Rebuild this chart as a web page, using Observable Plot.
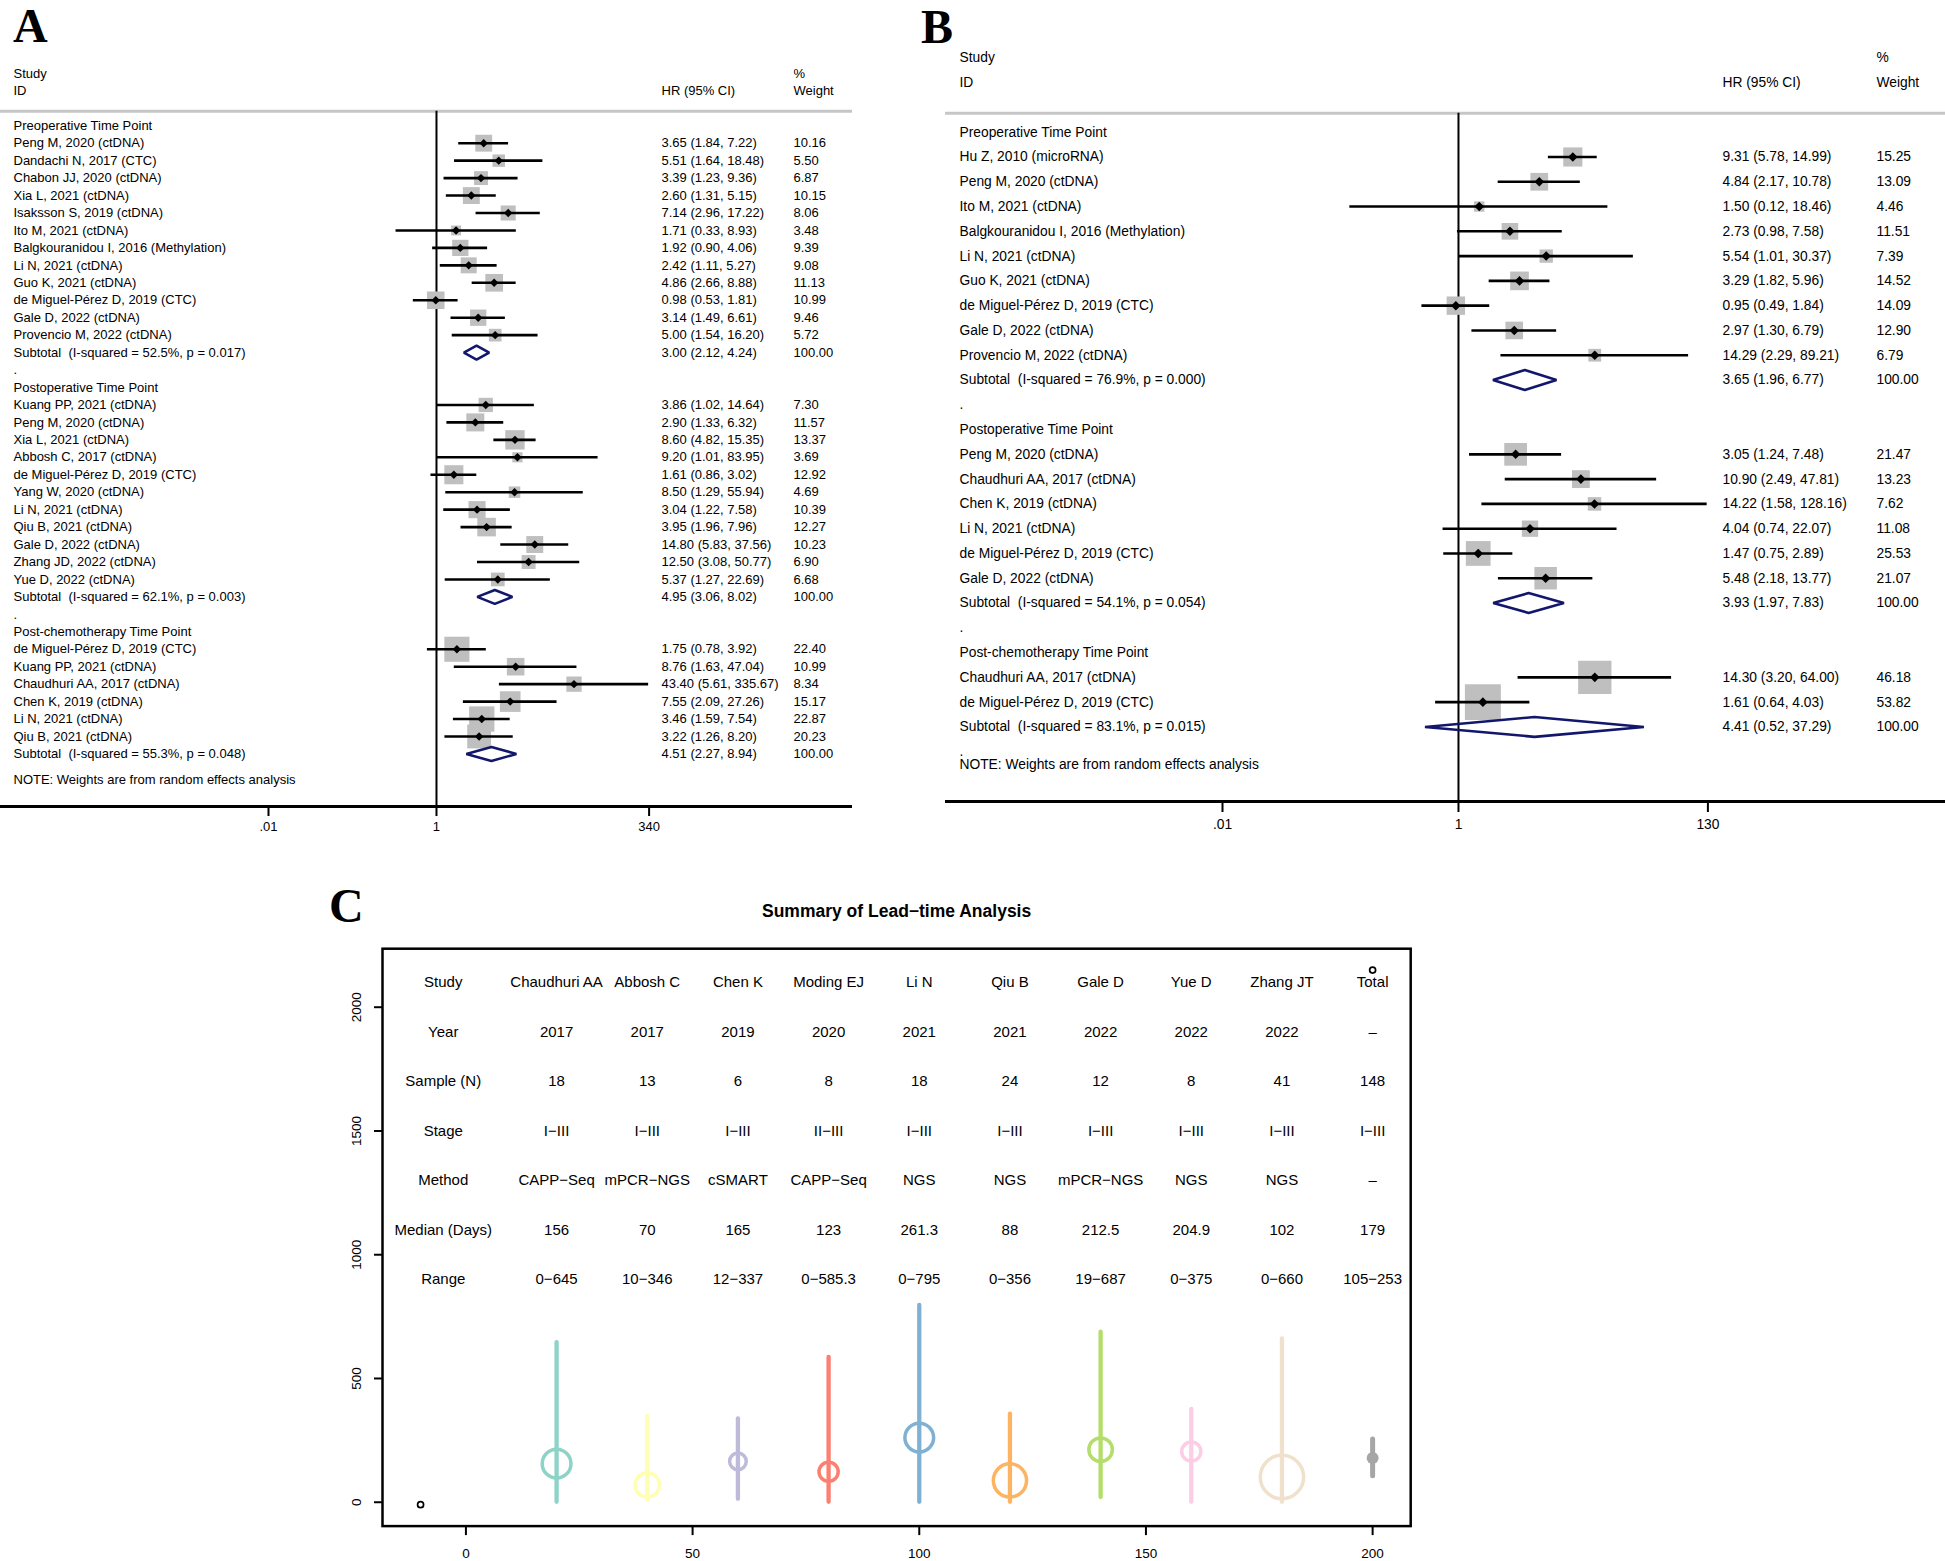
<!DOCTYPE html>
<html>
<head>
<meta charset="utf-8">
<script src="https://cdn.jsdelivr.net/npm/d3@7"></script>
<script src="https://cdn.jsdelivr.net/npm/@observablehq/plot@0.6"></script>
<style>
  body { margin: 0; background: #fff; }
  #page { position: relative; width: 1945px; height: 1561px; overflow: hidden; background: #fff;
          font-family: "Liberation Sans", Arial, Helvetica, sans-serif; }
  .panel { position: absolute; }
  .letter { position: absolute; font-family: "Liberation Serif", "Times New Roman", serif; font-weight: bold;
            font-size: 48px; line-height: 48px; color: #000; }
</style>
</head>
<body>
<div id="page">
  <div class="letter" style="left:13px;top:2px;">A</div>
  <div class="letter" style="left:921px;top:3px;">B</div>
  <div class="letter" style="left:329px;top:882px;">C</div>
  <div id="pA" class="panel" style="left:0px;top:0px;"></div>
  <div id="pB" class="panel" style="left:940px;top:0px;"></div>
  <div id="pC" class="panel" style="left:300px;top:860px;"></div>
</div>
<script>
const FONT = '"Liberation Sans", Arial, Helvetica, sans-serif';
const NAVY = "#13176c";

// ---------------- Panel A data ----------------
const A_groups = ["Preoperative Time Point", "Postoperative Time Point", "Post-chemotherapy Time Point"];
const A_groupSize = [12, 11, 6];
const A_study = [
  "Peng M, 2020 (ctDNA)", "Dandachi N, 2017 (CTC)", "Chabon JJ, 2020 (ctDNA)", "Xia L, 2021 (ctDNA)",
  "Isaksson S, 2019 (ctDNA)", "Ito M, 2021 (ctDNA)", "Balgkouranidou I, 2016 (Methylation)", "Li N, 2021 (ctDNA)",
  "Guo K, 2021 (ctDNA)", "de Miguel-Pérez D, 2019 (CTC)", "Gale D, 2022 (ctDNA)", "Provencio M, 2022 (ctDNA)",
  "Kuang PP, 2021 (ctDNA)", "Peng M, 2020 (ctDNA)", "Xia L, 2021 (ctDNA)", "Abbosh C, 2017 (ctDNA)",
  "de Miguel-Pérez D, 2019 (CTC)", "Yang W, 2020 (ctDNA)", "Li N, 2021 (ctDNA)", "Qiu B, 2021 (ctDNA)",
  "Gale D, 2022 (ctDNA)", "Zhang JD, 2022 (ctDNA)", "Yue D, 2022 (ctDNA)",
  "de Miguel-Pérez D, 2019 (CTC)", "Kuang PP, 2021 (ctDNA)", "Chaudhuri AA, 2017 (ctDNA)", "Chen K, 2019 (ctDNA)",
  "Li N, 2021 (ctDNA)", "Qiu B, 2021 (ctDNA)"
];
const A_hr = [3.65, 5.51, 3.39, 2.60, 7.14, 1.71, 1.92, 2.42, 4.86, 0.98, 3.14, 5.00,
              3.86, 2.90, 8.60, 9.20, 1.61, 8.50, 3.04, 3.95, 14.80, 12.50, 5.37,
              1.75, 8.76, 43.40, 7.55, 3.46, 3.22];
const A_lo = [1.84, 1.64, 1.23, 1.31, 2.96, 0.33, 0.90, 1.11, 2.66, 0.53, 1.49, 1.54,
              1.02, 1.33, 4.82, 1.01, 0.86, 1.29, 1.22, 1.96, 5.83, 3.08, 1.27,
              0.78, 1.63, 5.61, 2.09, 1.59, 1.26];
const A_hi = [7.22, 18.48, 9.36, 5.15, 17.22, 8.93, 4.06, 5.27, 8.88, 1.81, 6.61, 16.20,
              14.64, 6.32, 15.35, 83.95, 3.02, 55.94, 7.58, 7.96, 37.56, 50.77, 22.69,
              3.92, 47.04, 335.67, 27.26, 7.54, 8.20];
const A_weight = [10.16, 5.50, 6.87, 10.15, 8.06, 3.48, 9.39, 9.08, 11.13, 10.99, 9.46, 5.72,
                  7.30, 11.57, 13.37, 3.69, 12.92, 4.69, 10.39, 12.27, 10.23, 6.90, 6.68,
                  22.40, 10.99, 8.34, 15.17, 22.87, 20.23];
const A_subI2 = [52.5, 62.1, 55.3];
const A_subP = ["0.017", "0.003", "0.048"];
const A_subHr = [3.00, 4.95, 4.51];
const A_subLo = [2.12, 3.06, 2.27];
const A_subHi = [4.24, 8.02, 8.94];
const A_ticks = [0.01, 1, 340];
const A_tickLabels = [".01", "1", "340"];

// ---------------- Panel B data ----------------
const B_groups = ["Preoperative Time Point", "Postoperative Time Point", "Post-chemotherapy Time Point"];
const B_groupSize = [9, 6, 2];
const B_study = [
  "Hu Z, 2010 (microRNA)", "Peng M, 2020 (ctDNA)", "Ito M, 2021 (ctDNA)", "Balgkouranidou I, 2016 (Methylation)",
  "Li N, 2021 (ctDNA)", "Guo K, 2021 (ctDNA)", "de Miguel-Pérez D, 2019 (CTC)", "Gale D, 2022 (ctDNA)",
  "Provencio M, 2022 (ctDNA)",
  "Peng M, 2020 (ctDNA)", "Chaudhuri AA, 2017 (ctDNA)", "Chen K, 2019 (ctDNA)", "Li N, 2021 (ctDNA)",
  "de Miguel-Pérez D, 2019 (CTC)", "Gale D, 2022 (ctDNA)",
  "Chaudhuri AA, 2017 (ctDNA)", "de Miguel-Pérez D, 2019 (CTC)"
];
const B_hr = [9.31, 4.84, 1.50, 2.73, 5.54, 3.29, 0.95, 2.97, 14.29,
              3.05, 10.90, 14.22, 4.04, 1.47, 5.48,
              14.30, 1.61];
const B_lo = [5.78, 2.17, 0.12, 0.98, 1.01, 1.82, 0.49, 1.30, 2.29,
              1.24, 2.49, 1.58, 0.74, 0.75, 2.18,
              3.20, 0.64];
const B_hi = [14.99, 10.78, 18.46, 7.58, 30.37, 5.96, 1.84, 6.79, 89.21,
              7.48, 47.81, 128.16, 22.07, 2.89, 13.77,
              64.00, 4.03];
const B_weight = [15.25, 13.09, 4.46, 11.51, 7.39, 14.52, 14.09, 12.90, 6.79,
                  21.47, 13.23, 7.62, 11.08, 25.53, 21.07,
                  46.18, 53.82];
const B_subI2 = [76.9, 54.1, 83.1];
const B_subP = ["0.000", "0.054", "0.015"];
const B_subHr = [3.65, 3.93, 4.41];
const B_subLo = [1.96, 1.97, 0.52];
const B_subHi = [6.77, 7.83, 37.29];
const B_ticks = [0.01, 1, 130];
const B_tickLabels = [".01", "1", "130"];

// ---------------- Panel C data ----------------
const C_rowLabels = ["Study", "Year", "Sample (N)", "Stage", "Method", "Median (Days)", "Range"];
const C_study = ["Chaudhuri AA", "Abbosh C", "Chen K", "Moding EJ", "Li N", "Qiu B", "Gale D", "Yue D", "Zhang JT", "Total"];
const C_year = ["2017", "2017", "2019", "2020", "2021", "2021", "2022", "2022", "2022", "–"];
const C_n = [18, 13, 6, 8, 18, 24, 12, 8, 41, 148];
const C_stage = ["I−III", "I−III", "I−III", "II−III", "I−III", "I−III", "I−III", "I−III", "I−III", "I−III"];
const C_method = ["CAPP−Seq", "mPCR−NGS", "cSMART", "CAPP−Seq", "NGS", "NGS", "mPCR−NGS", "NGS", "NGS", "–"];
const C_median = [156, 70, 165, 123, 261.3, 88, 212.5, 204.9, 102, 179];
const C_rangeLo = [0, 10, 12, 0, 0, 0, 19, 0, 0, 105];
const C_rangeHi = [645, 346, 337, 585.3, 795, 356, 687, 375, 660, 253];
const C_colors = ["#8DD3C7", "#FFFFB3", "#BEBADA", "#FB8072", "#80B1D3", "#FDB462", "#B3DE69", "#FCCDE5", "#EFE1CB", "#A6A6A6"];
const C_cornerX = [-10, 200];
const C_cornerY = [-10, 2150];
const C_xTicks = [0, 50, 100, 150, 200];
const C_yTicks = [0, 500, 1000, 1500, 2000];
const C_title = "Summary of Lead−time Analysis";

// ---------------- forest builder ----------------
function buildRows(groups, sizes, study, hr, lo, hi, wt, i2, p, sHr, sLo, sHi, trailingDot) {
  const rows = [];
  let r = 0, k = 0;
  groups.forEach((g, gi) => {
    rows.push({kind: "head", label: g, row: r++});
    for (let j = 0; j < sizes[gi]; j++, k++) {
      rows.push({kind: "study", label: study[k], hr: hr[k], lo: lo[k], hi: hi[k], w: wt[k], row: r++});
    }
    rows.push({kind: "sub", label: `Subtotal\u00a0 (I-squared = ${i2[gi].toFixed(1)}%, p = ${p[gi]})`,
               hr: sHr[gi], lo: sLo[gi], hi: sHi[gi], w: 100, row: r++});
    if (gi < groups.length - 1 || trailingDot) rows.push({kind: "dot", label: ".", row: r++});
  });
  const lastSub = rows.filter(d => d.kind === "sub").at(-1).row;
  rows.push({kind: "note", label: "NOTE: Weights are from random effects analysis", row: lastSub + 1.5});
  return rows;
}

function forest(o) {
  const rows = o.rows;
  const studies = rows.filter(d => d.kind === "study");
  const effects = rows.filter(d => d.kind === "study" || d.kind === "sub");
  const subs = rows.filter(d => d.kind === "sub");
  const dia = subs.flatMap(d => [
    {g: d.row, x: d.lo, y: d.row},
    {g: d.row, x: d.hr, y: d.row - o.dh},
    {g: d.row, x: d.hi, y: d.row},
    {g: d.row, x: d.hr, y: d.row + o.dh}
  ]);
  const fs = o.fontSize;
  const txt = (data, text, dx) => Plot.text(data, {
    y: "row", text, frameAnchor: "left", dx, textAnchor: "start", lineAnchor: "middle",
    fontSize: fs, fill: "black"
  });
  const tickData = o.ticks.map((t, i) => ({t, label: o.tickLabels[i]}));
  return Plot.plot({
    width: o.width, height: o.height,
    marginLeft: o.ml, marginRight: o.mr, marginTop: o.mt, marginBottom: o.mb,
    style: {fontFamily: FONT, background: "transparent", overflow: "visible"},
    x: {type: "log", domain: o.xDomain, range: o.xRange, label: null},
    y: {domain: [0, 1], range: [o.y0, o.y0 + o.rowH], label: null, axis: null},
    r: {type: "sqrt", domain: [0, 100], range: [0, o.boxK * 10 / Math.sqrt(Math.PI)]},
    marks: [
      Plot.frame({anchor: "top", stroke: "#c6c6c6", strokeWidth: 3}),
      Plot.frame({anchor: "bottom", stroke: "black", strokeWidth: 3}),
      Plot.ruleX([1], {stroke: "black", strokeWidth: 2}),
      Plot.dot(studies, {x: "hr", y: "row", r: "w", symbol: "square", fill: "#bfbfbf", stroke: null}),
      Plot.ruleY(studies, {y: "row", x1: "lo", x2: "hi", stroke: "black", strokeWidth: 2.6}),
      Plot.dot(studies, {x: "hr", y: "row", r: o.ptR, symbol: "diamond2", fill: "black", stroke: null}),
      Plot.line(dia, {x: "x", y: "y", z: "g", curve: "linear-closed", stroke: NAVY, strokeWidth: 2.6, strokeLinejoin: "miter"}),
      txt(rows, "label", o.col.study),
      txt(effects, d => `${d.hr.toFixed(2)} (${d.lo.toFixed(2)}, ${d.hi.toFixed(2)})`, o.col.hr),
      txt(effects, d => d.w.toFixed(2), o.col.weight),
      txt([{row: -3, t: "Study"}, {row: -2, t: "ID"}], "t", o.col.study),
      txt([{row: -2, t: "HR (95% CI)"}], "t", o.col.hr),
      txt([{row: -3, t: "%"}, {row: -2, t: "Weight"}], "t", o.col.weight),
      Plot.axisX({
        anchor: "bottom", ticks: o.ticks, tickFormat: () => "", tickSize: o.tickSize,
        fontSize: fs, strokeWidth: 2, label: null
      }),
      Plot.text(tickData, {x: "t", text: "label", frameAnchor: "bottom", textAnchor: "middle", lineAnchor: "top",
                           dy: o.tickSize + o.tickPadding, fontSize: fs, fill: "black"})
    ]
  });
}

const rowsA = buildRows(A_groups, A_groupSize, A_study, A_hr, A_lo, A_hi, A_weight,
                        A_subI2, A_subP, A_subHr, A_subLo, A_subHi, false);
const rowsB = buildRows(B_groups, B_groupSize, B_study, B_hr, B_lo, B_hi, B_weight,
                        B_subI2, B_subP, B_subHr, B_subLo, B_subHi, true);

document.getElementById("pA").append(forest({
  rows: rowsA, width: 860, height: 840, ml: 0, mr: 10, mt: 110.7, mb: 34,
  xDomain: [0.01, 340], xRange: [268, 648.6], y0: 125.25, rowH: 17.45,
  col: {study: 13, hr: 661, weight: 793}, fontSize: 13, boxK: 5.3, ptR: 3.8, dh: 0.4,
  ticks: A_ticks, tickLabels: A_tickLabels, tickSize: 10, tickPadding: 5
}));

document.getElementById("pB").append(forest({
  rows: rowsB, width: 1005, height: 840, ml: 6, mr: 0, mt: 112.7, mb: 39,
  xDomain: [0.01, 130], xRange: [282, 767.4], y0: 131.7, rowH: 24.78,
  col: {study: 13, hr: 776, weight: 930}, fontSize: 13.8, boxK: 4.9, ptR: 4.3, dh: 0.4,
  ticks: B_ticks, tickLabels: B_tickLabels, tickSize: 11, tickPadding: 7
}));

// ---------------- Panel C ----------------
const cData = C_study.map((s, i) => ({
  x: (i + 1) * 20, study: s, year: C_year[i], n: C_n[i], stage: C_stage[i], method: C_method[i],
  median: C_median[i], lo: C_rangeLo[i], hi: C_rangeHi[i], color: C_colors[i], total: s === "Total"
}));
const fields = [d => d.study, d => d.year, d => String(d.n), d => d.stage, d => d.method,
                d => String(d.median), d => `${d.lo}−${d.hi}`];
const cells = [];
C_rowLabels.forEach((lab, k) => cells.push({x: -5, y: 2100 - 200 * k, t: lab}));
cData.forEach(d => fields.forEach((f, k) => cells.push({x: d.x, y: 2100 - 200 * k, t: f(d)})));
const corners = C_cornerX.map((x, i) => ({x, y: C_cornerY[i]}));
const xR = C_cornerX[1] - C_cornerX[0], yR = C_cornerY[1] - C_cornerY[0];

document.getElementById("pC").append(Plot.plot({
  width: 1160, height: 701, marginLeft: 82, marginRight: 49.8, marginTop: 88.2, marginBottom: 35.4,
  style: {fontFamily: FONT, background: "transparent", overflow: "visible"},
  x: {domain: [C_cornerX[0] - 0.04 * xR, C_cornerX[1] + 0.04 * xR], label: null},
  y: {domain: [C_cornerY[0] - 0.04 * yR, C_cornerY[1] + 0.04 * yR], label: null},
  r: {type: "sqrt", domain: [0, 41], range: [0, 21.7]},
  color: {type: "identity"},
  marks: [
    Plot.frame({stroke: "black", strokeWidth: 2.5}),
    Plot.axisX({ticks: C_xTicks, tickSize: 9.5, tickPadding: 12.5, fontSize: 13.5, strokeWidth: 2, label: null}),
    Plot.axisY({ticks: C_yTicks, tickSize: 8, tickFormat: () => "", strokeWidth: 2, label: null}),
    Plot.text(C_yTicks, {y: d => d, text: d => String(d), frameAnchor: "left", dx: -26, rotate: -90,
                         textAnchor: "middle", lineAnchor: "middle", fontSize: 13.5, fill: "black"}),
    Plot.ruleX(cData, {x: "x", y1: "lo", y2: "hi", stroke: "color", strokeWidth: d => d.total ? 5 : 4.3,
                       strokeLinecap: "round"}),
    Plot.dot(cData.filter(d => !d.total), {x: "x", y: "median", r: "n", stroke: "color", strokeWidth: 3.5, fill: "none"}),
    Plot.dot(cData.filter(d => d.total), {x: "x", y: "median", r: 6, fill: "color", stroke: null}),
    Plot.dot(corners, {x: "x", y: "y", r: 3, stroke: "black", strokeWidth: 1.7, fill: "none"}),
    Plot.text(cells, {x: "x", y: "y", text: "t", fontSize: 15, textAnchor: "middle", lineAnchor: "middle", fill: "black"}),
    Plot.text([C_title], {frameAnchor: "top", dy: -37, text: d => d, fontSize: 17.5, fontWeight: "bold",
                          lineAnchor: "middle", textAnchor: "middle", fill: "black"})
  ]
}));
</script>
</body>
</html>
